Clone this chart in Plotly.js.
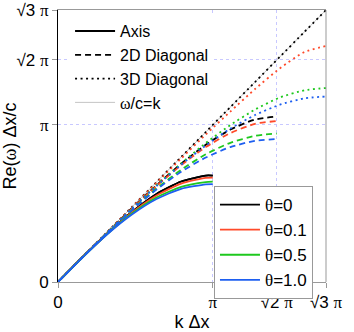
<!DOCTYPE html>
<html>
<head>
<meta charset="utf-8">
<script src="https://cdn.plot.ly/plotly-3.0.1.min.js"></script>
<style>
  html, body { margin: 0; padding: 0; background: #fff; }
  #plot { width: 354px; height: 332px; }
</style>
</head>
<body>
<div id="plot"></div>
<script>
    // --- Data ---
    const kAxis = [0, 0.5, 1, 1.5, 2, 2.5, 3, 3.1416];
    const axisT0 = [0, 0.50, 0.97, 1.40, 1.76, 2.01, 2.13, 2.13];
    const axisT01 = [0, 0.50, 0.97, 1.39, 1.73, 1.97, 2.085, 2.09];
    const axisT05 = [0, 0.495, 0.96, 1.37, 1.69, 1.905, 2.00, 2.01];
    const axisT10 = [0, 0.494, 0.955, 1.35, 1.66, 1.865, 1.955, 1.96];

    const k2D = [0, 0.5, 1, 1.5, 2, 2.5, 3, 3.5, 4, 4.4429];
    const diag2T0 = [0, 0.50, 0.99, 1.475, 1.935, 2.365, 2.745, 3.05, 3.25, 3.31];
    const diag2T01 = [0, 0.50, 0.99, 1.465, 1.92, 2.335, 2.70, 2.98, 3.165, 3.22];
    const diag2T05 = [0, 0.50, 0.985, 1.445, 1.87, 2.245, 2.555, 2.785, 2.925, 2.97];
    const diag2T10 = [0, 0.50, 0.98, 1.435, 1.85, 2.205, 2.49, 2.70, 2.825, 2.86];

    const k3D = [0, 0.5, 1, 1.5, 2, 2.5, 3, 3.5, 4, 4.5, 5, 5.4414];
    const diag3T0 = [0, 0.5, 1, 1.5, 2, 2.5, 3, 3.5, 4, 4.5, 5, 5.4414];
    const diag3T01 = [0, 0.50, 1.00, 1.495, 1.985, 2.47, 2.95, 3.41, 3.86, 4.27, 4.60, 4.72];
    const diag3T05 = [0, 0.50, 0.99, 1.47, 1.935, 2.37, 2.78, 3.14, 3.45, 3.69, 3.835, 3.88];
    const diag3T10 = [0, 0.50, 0.99, 1.47, 1.92, 2.345, 2.73, 3.07, 3.34, 3.545, 3.675, 3.71];

    const lightX = [0, 5.4414];
    const lightY = [0, 5.4414];

    const tickVals = [0, 3.1416, 4.4429, 5.4414];
    const greek = s => '<span style="font-family:Liberation Serif, DejaVu Serif, serif">' + s + '</span>';
    const tickText = ['0', greek('π'), '√2 ' + greek('π'), '√3 ' + greek('π')];

    const thetaNames = ['θ=0', 'θ=0.1', 'θ=0.5', 'θ=1.0'];
    const colors = ['#000000', '#ff4a2a', '#1ec81e', '#1e5ff0'];

    // --- Styles ---
    const DOT = '2px,3.5px';
    const DASH = '6px,4px';
    const W = 1.8;

    function curve(x, y, color, dash, opts) {
        return Object.assign({
            x: x, y: y, type: 'scatter', mode: 'lines',
            line: { color: color, width: W, dash: dash, shape: 'spline', smoothing: 0.6 },
            showlegend: false, hoverinfo: 'skip'
        }, opts || {});
    }

    const traces = [];

    // omega/c = k reference line (under everything)
    traces.push({
        x: lightX, y: lightY, type: 'scatter', mode: 'lines',
        line: { color: '#c4c4c4', width: 1 },
        name: greek('ω') + '/c=k', legend: 'legend', legendrank: 4, hoverinfo: 'skip'
    });

    // theta = 0
    traces.push(curve(kAxis, axisT0, colors[0], 'solid', { name: 'Axis', showlegend: true, legend: 'legend', legendrank: 1 }));
    traces.push(curve(k2D, diag2T0, colors[0], DASH, { name: '2D Diagonal', showlegend: true, legend: 'legend', legendrank: 2 }));
    traces.push(curve(k3D, diag3T0, colors[0], DOT, { name: '3D Diagonal', showlegend: true, legend: 'legend', legendrank: 3 }));
    traces.push(curve(kAxis, axisT0, colors[0], 'solid', { name: greek('θ') + '=0', showlegend: true, legend: 'legend2', legendrank: 1 }));

    const axisSets = [axisT01, axisT05, axisT10];
    const diag2Sets = [diag2T01, diag2T05, diag2T10];
    const diag3Sets = [diag3T01, diag3T05, diag3T10];

    for (let i = 0; i < 3; i++) {
        const c = colors[i + 1];
        const nm = greek('θ') + thetaNames[i + 1].slice(1);
        traces.push(curve(kAxis, axisSets[i], c, 'solid', { name: nm, showlegend: true, legend: 'legend2', legendrank: i + 2 }));
        traces.push(curve(k2D, diag2Sets[i], c, DASH));
        traces.push(curve(k3D, diag3Sets[i], c, DOT));
    }

    const axisFont = { family: 'Liberation Sans, Arial, sans-serif', size: 17, color: '#000' };

    const layout = {
        width: 354, height: 332,
        margin: { l: 58, r: 28, t: 10, b: 50, pad: 0 },
        paper_bgcolor: '#fff', plot_bgcolor: '#fff',
        font: axisFont,
        xaxis: {
            range: [0, 5.4414], tickmode: 'array', tickvals: tickVals, ticktext: tickText,
            ticks: 'outside', ticklen: 5, tickcolor: '#999',
            showline: true, linecolor: '#999', linewidth: 1, mirror: true,
            showgrid: true, gridcolor: '#c8c8ff', griddash: 'dot', gridwidth: 1,
            zeroline: false, tickfont: { size: 17 },
            title: { text: 'k Δx', font: { size: 18 }, standoff: 6 }
        },
        yaxis: {
            range: [0, 5.4414], tickmode: 'array', tickvals: tickVals, ticktext: tickText,
            ticks: 'outside', ticklen: 5, tickcolor: '#999',
            showline: true, linecolor: '#000', linewidth: 1,
            showgrid: true, gridcolor: '#c8c8ff', griddash: 'dot', gridwidth: 1,
            zeroline: false, tickfont: { size: 17 },
            title: { text: 'Re(' + greek('ω') + ') Δx/c', font: { size: 18 }, standoff: 6 }
        },
        shapes: [
            { type: 'line', xref: 'paper', yref: 'paper', x0: 1, x1: 1, y0: 0, y1: 1,
              line: { color: '#999', width: 1 } }
        ],
        legend: {
            x: 0.045, y: 0.985, xanchor: 'left', yanchor: 'top',
            bgcolor: '#fff', borderwidth: 0, itemwidth: 40,
            font: { size: 16 }, traceorder: 'normal'
        },
        legend2: {
            x: 0.582, y: 0.353, xanchor: 'left', yanchor: 'top',
            bgcolor: '#fff', bordercolor: '#999', borderwidth: 1, itemwidth: 40,
            font: { size: 17 }, traceorder: 'normal'
        },
        showlegend: true
    };

    Plotly.newPlot('plot', traces, layout, { staticPlot: true, displayModeBar: false });
</script>
</body>
</html>
